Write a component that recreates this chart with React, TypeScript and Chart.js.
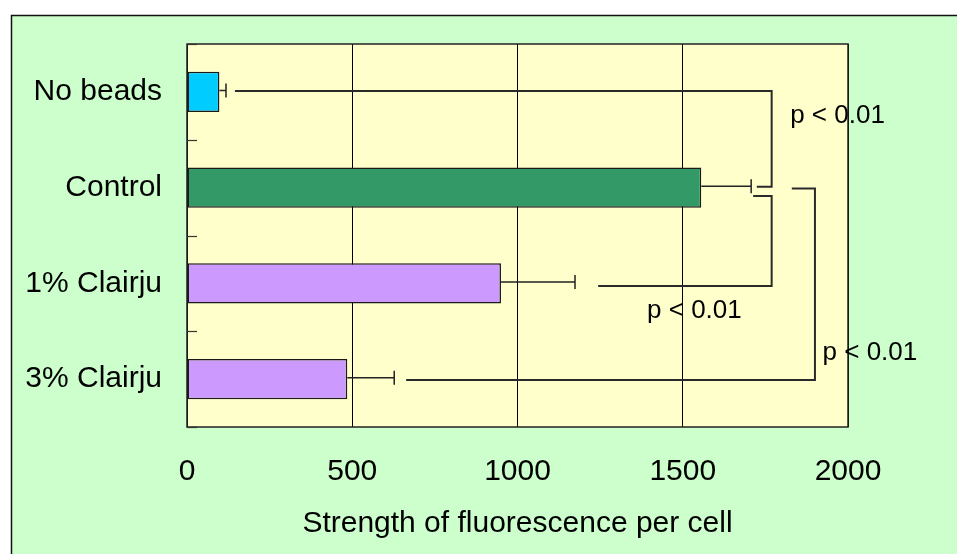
import { useEffect, useRef } from "react";
import { Chart, registerables } from "chart.js";

Chart.register(...registerables);

// Rows and measured values
const categories = ["No beads", "Control", "1% Clairju", "3% Clairju"];
const means = [98, 1556, 950, 485];
const errors = [20, 151, 224, 142];
const barColors = ["#00CCFF", "#339966", "#CC99FF", "#CC99FF"];
const xTicks = [0, 500, 1000, 1500, 2000];
const xTitle = "Strength of fluorescence per cell";

// Significance brackets: run along row A from `bracketFrom` to `bracketX`,
// drop to row B, then run back to `bracketTo` (x in data units, rows as indices)
const bracketFrom = [145, 1713, 1830];
const bracketRowA = [-0.01, 1.087, 1.009];
const bracketX = [1769, 1769, 1900];
const bracketRowB = [0.99, 2.027, 3.009];
const bracketTo = [1724, 1244, 663];
const pLabels = ["p < 0.01", "p < 0.01", "p < 0.01"];
const pLabelX = [1825, 1392, 1923];
const pLabelRow = [0.325, 2.361, 2.8];

const FONT = "'Liberation Sans', Arial, sans-serif";
const W = 957;
const H = 554;

const decorations = {
  id: "decorations",
  beforeDraw(chart: any) {
    const { ctx, chartArea: a } = chart;
    ctx.save();
    ctx.fillStyle = "#ffffff";
    ctx.fillRect(0, 0, W, H);
    // outer panel
    ctx.fillStyle = "#CCFFCC";
    ctx.fillRect(11, 15, W, H);
    ctx.strokeStyle = "#111";
    ctx.lineWidth = 1.5;
    ctx.beginPath();
    ctx.moveTo(11.5, H);
    ctx.lineTo(11.5, 15.5);
    ctx.lineTo(W, 15.5);
    ctx.stroke();
    // plot background
    ctx.fillStyle = "#FFFFCC";
    ctx.fillRect(a.left, a.top, a.width, a.height);
    ctx.restore();
  },
  afterDatasetsDraw(chart: any) {
    const { ctx, chartArea: a } = chart;
    const xs = chart.scales.x;
    const ys = chart.scales.y;
    ctx.save();

    // plot frame
    ctx.strokeStyle = "#222";
    ctx.lineWidth = 1.5;
    ctx.strokeRect(a.left, a.top, a.width, a.height);

    // short tick marks between rows on the category axis
    ctx.strokeStyle = "#333";
    ctx.lineWidth = 1.2;
    for (let i = 0; i <= categories.length; i++) {
      const y = Math.round(ys.getPixelForValue(i - 0.5)) + 0.5;
      ctx.beginPath();
      ctx.moveTo(a.left, y);
      ctx.lineTo(a.left + 10, y);
      ctx.stroke();
    }

    // error bars
    ctx.strokeStyle = "#222";
    ctx.lineWidth = 1.5;
    means.forEach((m, i) => {
      const y = ys.getPixelForValue(i) - 1.5;
      const x0 = xs.getPixelForValue(m);
      const x1 = xs.getPixelForValue(m + errors[i]);
      ctx.beginPath();
      ctx.moveTo(x0, y);
      ctx.lineTo(x1, y);
      ctx.moveTo(x1, y - 7);
      ctx.lineTo(x1, y + 7);
      ctx.stroke();
    });

    // significance brackets
    ctx.strokeStyle = "#2a2a2a";
    ctx.lineWidth = 2;
    bracketFrom.forEach((from, i) => {
      const ya = ys.getPixelForValue(bracketRowA[i]);
      const yb = ys.getPixelForValue(bracketRowB[i]);
      const xv = xs.getPixelForValue(bracketX[i]);
      ctx.beginPath();
      ctx.moveTo(xs.getPixelForValue(from), ya);
      ctx.lineTo(xv, ya);
      ctx.lineTo(xv, yb);
      ctx.lineTo(xs.getPixelForValue(bracketTo[i]), yb);
      ctx.stroke();
    });

    // p-value labels
    ctx.fillStyle = "#000";
    ctx.font = `26px ${FONT}`;
    ctx.textAlign = "left";
    ctx.textBaseline = "alphabetic";
    pLabels.forEach((t, i) => {
      ctx.fillText(t, xs.getPixelForValue(pLabelX[i]), ys.getPixelForValue(pLabelRow[i]));
    });

    ctx.restore();
  },
};

export default function App() {
  const ref = useRef<HTMLCanvasElement | null>(null);

  useEffect(() => {
    if (!ref.current) return;
    const chart = new Chart(ref.current, {
      type: "bar",
      data: {
        labels: categories,
        datasets: [
          {
            data: means,
            backgroundColor: barColors,
            borderColor: "#1a1a1a",
            borderWidth: 1.5,
            borderSkipped: false,
            barPercentage: 0.42,
            categoryPercentage: 1,
          },
        ],
      },
      options: {
        indexAxis: "y",
        responsive: false,
        animation: false,
        devicePixelRatio: 1,
        layout: { padding: { top: 44, right: 109, left: 0, bottom: 0 } },
        plugins: {
          legend: { display: false },
          tooltip: { enabled: false },
        },
        scales: {
          x: {
            type: "linear",
            min: 0,
            max: 2000,
            afterBuildTicks: (scale: any) => {
              scale.ticks = xTicks.map((v) => ({ value: v }));
            },
            afterFit: (scale: any) => {
              scale.height = 127;
            },
            grid: { color: "#000", lineWidth: 1, drawTicks: false },
            border: { display: false },
            ticks: {
              color: "#000",
              font: { family: FONT, size: 30 },
              padding: 27,
              maxRotation: 0,
              callback: (v: any) => String(v),
            },
            title: {
              display: true,
              text: xTitle,
              color: "#000",
              font: { family: FONT, size: 30 },
              padding: { top: 0, bottom: 12 },
            },
          },
          y: {
            type: "category",
            offset: true,
            afterFit: (scale: any) => {
              scale.width = 187;
            },
            grid: { display: false, drawTicks: false },
            border: { display: false },
            ticks: {
              color: "#000",
              font: { family: FONT, size: 30 },
              padding: 25,
              autoSkip: false,
            },
          },
        },
      },
      plugins: [decorations],
    } as any);
    return () => chart.destroy();
  }, []);

  return (
    <div style={{ position: "fixed", left: 0, top: 0, width: W, height: H }}>
      <canvas ref={ref} width={W} height={H} style={{ display: "block" }} />
    </div>
  );
}
